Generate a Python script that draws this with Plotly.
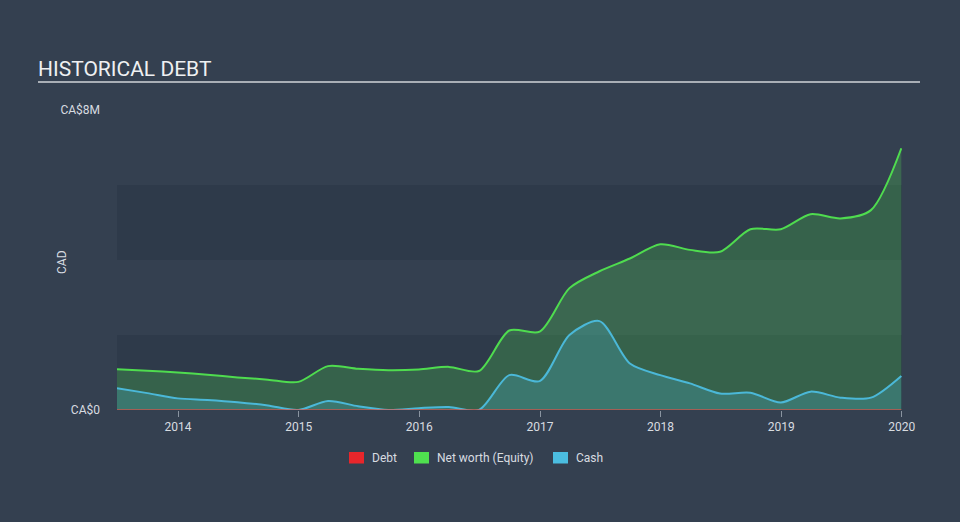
import plotly.graph_objects as go

dates = ["2013-06-30", "2013-09-30", "2013-12-31", "2014-03-31", "2014-06-30", "2014-09-30",
         "2014-12-31", "2015-03-31", "2015-06-30", "2015-09-30", "2015-12-31", "2016-03-31",
         "2016-06-30", "2016-09-30", "2016-12-31", "2017-03-31", "2017-06-30", "2017-09-30",
         "2017-12-31", "2018-03-31", "2018-06-30", "2018-09-30", "2018-12-31", "2019-03-31",
         "2019-06-30", "2019-09-30", "2019-12-31"]
equity = [1.09, 1.05, 1.00, 0.94, 0.87, 0.81, 0.75, 1.17, 1.10, 1.06, 1.08, 1.15, 1.04,
          2.12, 2.09, 3.25, 3.70, 4.04, 4.42, 4.27, 4.22, 4.82, 4.82, 5.22, 5.11, 5.33, 6.98]
cash = [0.58, 0.45, 0.31, 0.27, 0.21, 0.12, 0.0, 0.24, 0.10, 0.0, 0.05, 0.08, 0.0,
        0.93, 0.77, 2.00, 2.37, 1.24, 0.93, 0.71, 0.44, 0.46, 0.20, 0.49, 0.33, 0.33, 0.91]
debt = [0.0] * len(dates)

equity_v = [v * 1e6 for v in equity]
cash_v = [v * 1e6 for v in cash]
debt_v = [v * 1e6 for v in debt]

year_ticks = ["2014-01-01", "2015-01-01", "2016-01-01", "2017-01-01", "2018-01-01",
              "2019-01-01", "2020-01-01"]
year_labels = ["2014", "2015", "2016", "2017", "2018", "2019", "2020"]

legend_names = ["Debt", "Net worth (Equity)", "Cash"]
legend_colors = ["#e8262b", "#4fe04f", "#4bbde0"]
legend_px = [349, 414, 553]  # left edge of each legend swatch (pixels)

BG = "#344050"
BAND = "#2e3a4a"
FONT = "Roboto"
TXT = "#d8dce0"

L, R, T, B = 117, 902, 110, 410
W, H = R - L, B - T


def px_x(p):
    return (p - L) / W


def px_y(p):
    return (B - p) / H


fig = go.Figure()
fig.add_trace(go.Scatter(x=dates, y=equity_v, mode="lines",
                         line=dict(color="#4fdc4f", width=2, shape="spline", smoothing=0.8),
                         fill="tozeroy", fillcolor="rgba(80,220,80,0.25)", showlegend=False, hoverinfo="skip"))
fig.add_trace(go.Scatter(x=dates, y=cash_v, mode="lines",
                         line=dict(color="#4bb8d8", width=2, shape="spline", smoothing=0.8),
                         fill="tozeroy", fillcolor="rgba(75,185,215,0.25)", showlegend=False, hoverinfo="skip"))
fig.add_trace(go.Scatter(x=dates, y=debt_v, mode="lines", line=dict(color="rgba(235,80,70,0.6)", width=2),
                         showlegend=False, hoverinfo="skip"))

# background bands
for y0, y1 in [(0, 2e6), (4e6, 6e6)]:
    fig.add_shape(type="rect", xref="paper", yref="y", x0=0, x1=1, y0=y0, y1=y1,
                  fillcolor=BAND, line=dict(width=0), layer="below")

# title underline
fig.add_shape(type="line", xref="paper", yref="paper", x0=px_x(38), x1=px_x(920),
              y0=px_y(82), y1=px_y(82), line=dict(color="#a9afb6", width=2))

# manual legend
for name, col, p in zip(legend_names, legend_colors, legend_px):
    fig.add_shape(type="rect", xref="paper", yref="paper", x0=px_x(p), x1=px_x(p + 15),
                  y0=px_y(463.5), y1=px_y(452), fillcolor=col, line=dict(width=0))
    fig.add_annotation(text=name, xref="paper", yref="paper", x=px_x(p + 21), y=px_y(458),
                       xanchor="left", yanchor="middle", showarrow=False,
                       font=dict(family=FONT, size=12, color=TXT))

# y axis title
fig.add_annotation(text="CAD", xref="paper", yref="paper", x=px_x(62), y=px_y(262),
                   xanchor="center", yanchor="middle", textangle=-90, showarrow=False,
                   font=dict(family=FONT, size=12, color=TXT))

fig.update_layout(
    width=960, height=522,
    paper_bgcolor=BG, plot_bgcolor=BG,
    margin=dict(l=L, r=960 - R, t=T, b=522 - B),
    font=dict(family=FONT, color=TXT, size=12),
    showlegend=False,
    title=dict(text="HISTORICAL DEBT", x=38 / 960, xanchor="left", xref="container",
               y=1 - 69 / 522, yanchor="middle", yref="container",
               font=dict(family=FONT, size=21, color="#eef0f2")),
    xaxis=dict(type="date", range=["2013-06-30", "2020-01-02"], tickvals=year_ticks, ticktext=year_labels,
               showgrid=False, zeroline=False, ticks="outside", ticklen=6, tickcolor="#8a94a0",
               showline=False, tickfont=dict(size=12, color=TXT)),
    yaxis=dict(range=[0, 8e6], tickvals=[0, 8e6], ticktext=["CA$0", "CA$8M"], showgrid=False,
               zeroline=False, ticks="", ticklabelstandoff=16, tickfont=dict(size=12, color=TXT)),
)

fig.write_html("out.html")
